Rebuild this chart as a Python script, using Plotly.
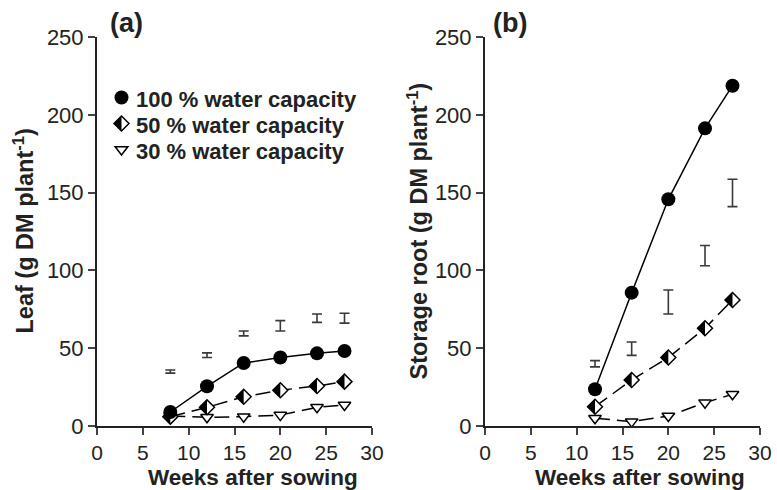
import math
import plotly.graph_objects as go

# ---------------- data ----------------
weeks_leaf = [8, 12, 16, 20, 24, 27]
leaf_100 = [9, 25.5, 40.5, 44, 46.7, 48.2]
leaf_50 = [6, 12, 18.8, 23, 25.7, 28.5]
leaf_30 = [6.4, 5.6, 6, 7, 12, 13.5]
leaf_lsd_center = [35, 45.5, 59.5, 64.4, 69.3, 69.3]
leaf_lsd_half = [1.0, 1.5, 1.6, 3.3, 2.7, 3.2]

weeks_root = [12, 16, 20, 24, 27]
root_100 = [23.6, 85.7, 145.7, 191.3, 218.7]
root_50 = [12.4, 29.6, 44, 62.8, 81]
root_30 = [5, 2.8, 6.4, 15, 20.4]
root_lsd_center = [40, 49.7, 79.7, 109.5, 149.8]
root_lsd_half = [2, 4.3, 7.7, 6.5, 8.8]

series_names = ["100 % water capacity", "50 % water capacity", "30 % water capacity"]
x_ticks = [0, 5, 10, 15, 20, 25, 30]
y_ticks = [0, 50, 100, 150, 200, 250]

# ---------------- layout geometry ----------------
W, H = 777, 490
ML, MR, MT, MB = 97, 17, 37, 64
PW = W - ML - MR
PH = H - MT - MB


def px_x(p):
    return (p - ML) / PW


def px_y(p):
    return (H - MB - p) / PH


FONT = "Liberation Sans, Arial, Helvetica, sans-serif"
TXT = "#222"
CIRC_SIZE = 14
DIAM_SIZE = 11.5
TRI_SIZE = 11
HALF_W = 1.3 * DIAM_SIZE / 2

fig = go.Figure()

panels = [
    ("x", "y", weeks_leaf, [leaf_100, leaf_50, leaf_30], leaf_lsd_center, leaf_lsd_half),
    ("x2", "y2", weeks_root, [root_100, root_50, root_30], root_lsd_center, root_lsd_half),
]

for xa, ya, wk, vals, lc, lh in panels:
    # LSD bars
    fig.add_trace(go.Scatter(
        x=wk, y=lc, xaxis=xa, yaxis=ya, mode="markers",
        marker=dict(size=1, color="rgba(0,0,0,0)"),
        error_y=dict(type="data", array=lh, symmetric=True, color="#3a3a3a",
                     thickness=1.6, width=5),
        showlegend=False, hoverinfo="skip", cliponaxis=False))
    # 30 %
    fig.add_trace(go.Scatter(
        x=wk, y=vals[2], xaxis=xa, yaxis=ya, mode="lines+markers",
        name=series_names[2], showlegend=False,
        line=dict(color="black", width=1.5, dash="15px,7px"),
        marker=dict(symbol="triangle-down", size=TRI_SIZE, color="white",
                    line=dict(color="black", width=1.5)),
        cliponaxis=False))
    # 50 %
    fig.add_trace(go.Scatter(
        x=wk, y=vals[1], xaxis=xa, yaxis=ya, mode="lines+markers",
        name=series_names[1], showlegend=False,
        line=dict(color="black", width=1.5, dash="15px,7px"),
        marker=dict(symbol="diamond", size=DIAM_SIZE, color="white",
                    line=dict(color="black", width=1.5)),
        cliponaxis=False))
    # 100 %
    fig.add_trace(go.Scatter(
        x=wk, y=vals[0], xaxis=xa, yaxis=ya, mode="lines+markers",
        name=series_names[0], showlegend=False,
        line=dict(color="black", width=1.5),
        marker=dict(symbol="circle", size=CIRC_SIZE, color="black"),
        cliponaxis=False))
    # left-half fill of the diamonds
    for xv, yv in zip(wk, vals[1]):
        fig.add_shape(type="path", xref=xa, yref=ya,
                      xsizemode="pixel", ysizemode="pixel",
                      xanchor=xv, yanchor=yv,
                      path=f"M{-HALF_W},0 L0,{HALF_W} L0,{-HALF_W} Z",
                      fillcolor="black", line=dict(width=0), layer="above")

axis_common = dict(
    range=[0, 30], tickvals=x_ticks, ticks="outside", ticklen=7, tickwidth=2,
    showline=True, linecolor=TXT, linewidth=2, showgrid=False, zeroline=False,
    tickfont=dict(family=FONT, size=21, color=TXT), automargin=False,
)
yaxis_common = dict(
    range=[0, 250], tickvals=y_ticks, ticks="outside", ticklen=7, tickwidth=2,
    showline=True, linecolor=TXT, linewidth=2, showgrid=False, zeroline=False,
    tickfont=dict(family=FONT, size=22, color=TXT), automargin=False,
)

fig.update_layout(
    width=W, height=H,
    margin=dict(l=ML, r=MR, t=MT, b=MB),
    paper_bgcolor="white", plot_bgcolor="white",
    xaxis=dict(domain=[0, px_x(372)], anchor="y", **axis_common),
    xaxis2=dict(domain=[px_x(485), 1], anchor="y2", **axis_common),
    yaxis=dict(anchor="x", **yaxis_common),
    yaxis2=dict(anchor="x2", **yaxis_common),
    showlegend=False,
)

# panel labels
for t, xp in [("(a)", 126), ("(b)", 510)]:
    fig.add_annotation(xref="paper", yref="paper", showarrow=False, text=t,
                       x=px_x(xp), y=px_y(23), xanchor="center", yanchor="middle",
                       font=dict(family=FONT, size=27, color=TXT, weight="bold"))

# x-axis titles
for xp in [253, 640]:
    fig.add_annotation(xref="paper", yref="paper", showarrow=False,
                       text="Weeks after sowing",
                       x=px_x(xp), y=px_y(463), xanchor="center", yanchor="top",
                       font=dict(family=FONT, size=22.5, color=TXT, weight="bold"))

# y-axis titles
for t, xp in [("Leaf (g DM plant<sup>-1</sup>)", 23),
              ("Storage root (g DM plant<sup>-1</sup>)", 417)]:
    fig.add_annotation(xref="paper", yref="paper", showarrow=False, text=t,
                       x=px_x(xp), y=0.5, xanchor="center", yanchor="middle",
                       textangle=-90,
                       font=dict(family=FONT, size=23.5, color=TXT, weight="bold"))

# ---------------- manual legend (inside panel a) ----------------
LEG_SYM_X = 121.5
LEG_TXT_X = 134
LEG_Y = [97.5, 123.5, 149.5]

r = CIRC_SIZE / 2
fig.add_shape(type="circle", xref="paper", yref="paper",
              xsizemode="pixel", ysizemode="pixel",
              xanchor=px_x(LEG_SYM_X), yanchor=px_y(LEG_Y[0]),
              x0=-r, x1=r, y0=-r, y1=r,
              fillcolor="black", line=dict(width=0))
d = HALF_W
fig.add_shape(type="path", xref="paper", yref="paper",
              xsizemode="pixel", ysizemode="pixel",
              xanchor=px_x(LEG_SYM_X), yanchor=px_y(LEG_Y[1]),
              path=f"M{-d},0 L0,{d} L{d},0 L0,{-d} Z",
              fillcolor="white", line=dict(color="black", width=1.5))
fig.add_shape(type="path", xref="paper", yref="paper",
              xsizemode="pixel", ysizemode="pixel",
              xanchor=px_x(LEG_SYM_X), yanchor=px_y(LEG_Y[1]),
              path=f"M{-d},0 L0,{d} L0,{-d} Z",
              fillcolor="black", line=dict(width=0))
tr = TRI_SIZE / 2
rt = tr * 2 / math.sqrt(3)
fig.add_shape(type="path", xref="paper", yref="paper",
              xsizemode="pixel", ysizemode="pixel",
              xanchor=px_x(LEG_SYM_X), yanchor=px_y(LEG_Y[2]),
              path=f"M{-rt:.2f},{tr/2:.2f} L{rt:.2f},{tr/2:.2f} L0,{-tr:.2f} Z",
              fillcolor="white", line=dict(color="black", width=1.5))

for name, yp in zip(series_names, LEG_Y):
    fig.add_annotation(xref="paper", yref="paper", showarrow=False, text=name,
                       x=px_x(LEG_TXT_X), y=px_y(yp + 1.5), xanchor="left", yanchor="middle",
                       font=dict(family=FONT, size=22, color=TXT, weight="bold"))

fig.write_html("out.html")
